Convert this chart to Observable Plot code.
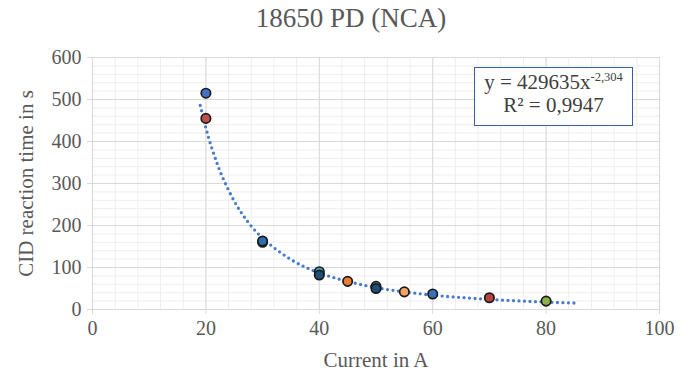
<!DOCTYPE html>
<html>
<head>
<meta charset="utf-8">
<script src="https://cdn.jsdelivr.net/npm/d3@7"></script>
<script src="https://cdn.jsdelivr.net/npm/@observablehq/plot@0.6"></script>
<style>
  body { margin: 0; background: #fff; }
  #wrap { position: relative; width: 691px; height: 378px; font-family: "Liberation Serif", "Times New Roman", serif; }
  #title { position: absolute; left: 0; top: 3px; width: 702px; text-align: center; font-size: 27px; color: #595959; }
  #chart { position: absolute; left: 0; top: 42px; }
  #chart svg text { font-family: "Liberation Serif", "Times New Roman", serif; }
  #eq { position: absolute; left: 474px; top: 67px; width: 157px; height: 54px; border: 1.5px solid #3A5F9E; background: #fff;
        color: #404040; font-size: 21px; text-align: center; line-height: 23px; padding-top: 3px; box-sizing: content-box; }
  #eq sup { font-size: 12.5px; vertical-align: 8px; line-height: 0; }
</style>
</head>
<body>
<div id="wrap">
  <div id="title">18650 PD (NCA)</div>
  <div id="chart"></div>
  <div id="eq"><div>y = 429635x<sup>-2,304</sup></div><div>R² = 0,9947</div></div>
</div>
<script>
// Measured points
const current = [20, 20, 30, 30, 40, 40, 45, 50, 50, 55, 60, 70, 80];
const reactionTime = [515, 455, 160, 163, 90, 82, 67, 55, 50, 42, 37, 28, 20];
const test = ["a", "b", "c", "c2", "d", "e", "f", "g", "h", "i", "j", "k", "l"];

// Power trendline
const fitX = [19, 20, 21, 22, 23, 25, 27, 30, 35, 40, 45, 50, 55, 60, 65, 70, 75, 80, 85];
const fitY = [486, 432, 386, 347, 313, 258, 216, 170, 119, 87, 67, 52, 42, 34, 28.6, 24, 20.6, 17.7, 15.4];

// Axis ticks
const xTicks = [0, 20, 40, 60, 80, 100];
const yTicks = [0, 100, 200, 300, 400, 500, 600];
const xMinor = d3.range(0, 101, 4);
const yMinor = d3.range(0, 601, 20);

const points = current.map((c, i) => ({current: c, time: reactionTime[i], test: test[i]}));
const fit = fitX.map((x, i) => ({x, y: fitY[i]}));

const pointColors = ["#4472C4", "#C0504D", "#1F5F99", "#2E6FB0", "#3FA6C8", "#1F4E79", "#ED7D31",
                     "#4FB3D9", "#1F4E79", "#F4A460", "#3B6FB6", "#B8433F", "#8DB04A"];

const serif = '"Liberation Serif", "Times New Roman", serif';

const chart = Plot.plot({
  width: 691,
  height: 336,
  marginLeft: 92,
  marginRight: 32,
  marginTop: 15,
  marginBottom: 69,
  style: {fontFamily: serif, fontSize: "20px", color: "#595959", background: "#fff"},
  x: {domain: [0, 100], ticks: xTicks, label: null},
  y: {domain: [0, 600], ticks: yTicks, label: null},
  color: {domain: test, range: pointColors},
  marks: [
    Plot.ruleX(xMinor, {stroke: "#eeeeee", strokeWidth: 1}),
    Plot.ruleY(yMinor, {stroke: "#eeeeee", strokeWidth: 1}),
    Plot.ruleX(xTicks, {stroke: "#d9d9d9", strokeWidth: 1}),
    Plot.ruleY(yTicks, {stroke: "#d9d9d9", strokeWidth: 1}),
    Plot.axisX({ticks: xTicks, tickSize: 5, tickPadding: 6, stroke: "#d9d9d9", fill: "#595959", fontSize: 20, fontFamily: serif, label: null}),
    Plot.axisY({ticks: yTicks, tickSize: 5, tickPadding: 6, stroke: "#d9d9d9", fill: "#595959", fontSize: 20, fontFamily: serif, label: null}),
    Plot.line(fit, {x: "x", y: "y", curve: "natural", stroke: "#4A7DC9", strokeWidth: 3.3,
      strokeDasharray: "0 5.5", strokeLinecap: "round"}),
    Plot.dot(points, {x: "current", y: "time", r: 4.7, fill: "test", stroke: "#1a1a1a", strokeWidth: 1.7}),
    Plot.text(["Current in A"], {frameAnchor: "bottom", dy: 57, fill: "#595959", fontSize: 21}),
    Plot.text(["CID reaction time in s"], {frameAnchor: "left", textAnchor: "middle", dx: -66, rotate: -90, fill: "#595959", fontSize: 21})
  ]
});
document.getElementById("chart").appendChild(chart);
</script>
</body>
</html>
